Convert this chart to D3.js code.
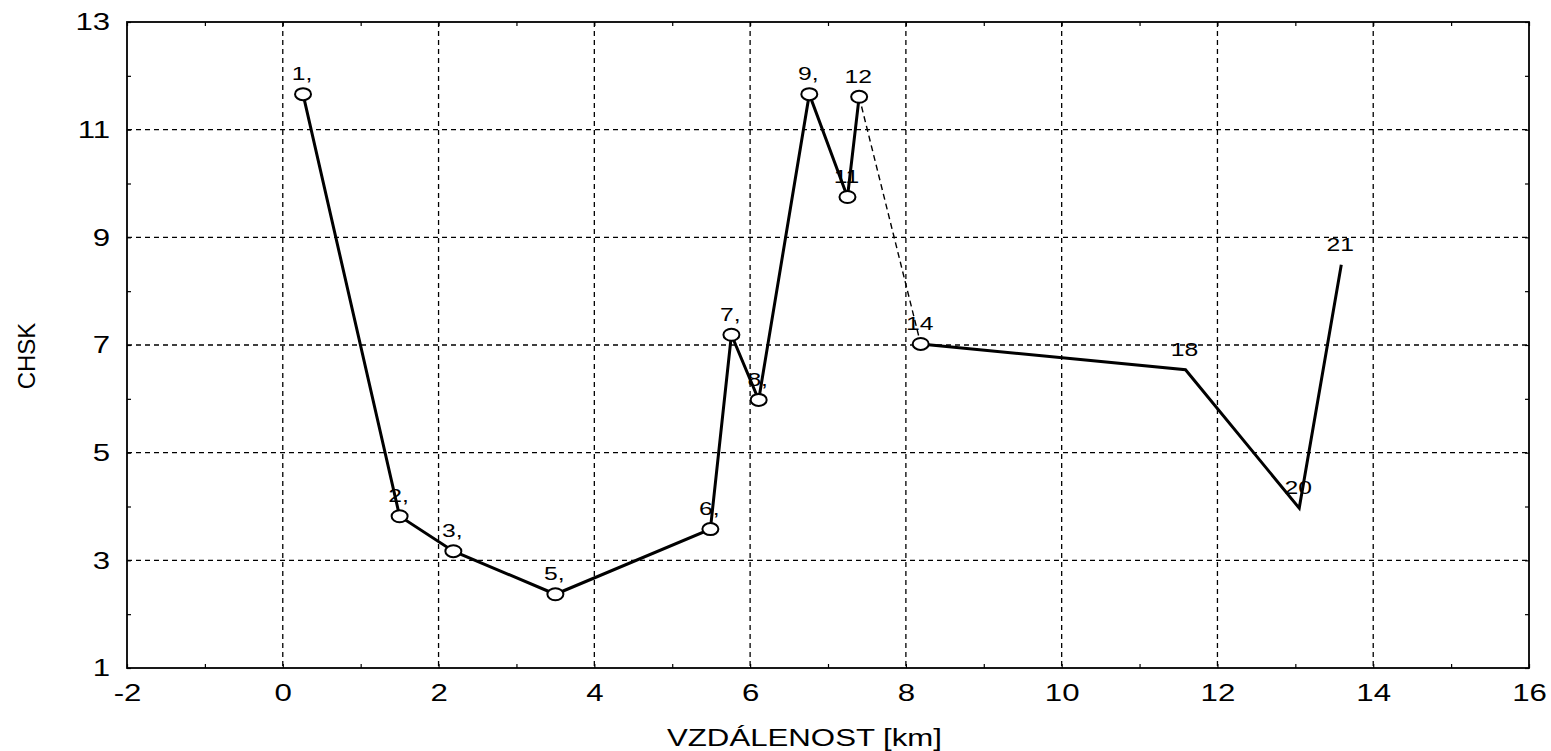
<!DOCTYPE html>
<html>
<head>
<meta charset="utf-8">
<script src="https://cdn.jsdelivr.net/npm/d3@7"></script>
<style>
  body { margin: 0; background: #fff; }
  text { font-family: "Liberation Sans", Arial, sans-serif; fill: #000; }
</style>
</head>
<body>
<svg id="chart" width="1551" height="751"></svg>
<script>
// point labels, distance [km] and CHSK values
var labels   = ['1,', '2,', '3,', '5,', '6,', '7,', '8,', '9,', '11', '12', '14', '18', '20', '21'];
var distance = [0.26, 1.50, 2.19, 3.50, 5.49, 5.76, 6.11, 6.76, 7.25, 7.40, 8.19, 11.59, 13.05, 13.59];
var chsk     = [11.66, 3.82, 3.17, 2.37, 3.58, 7.19, 5.98, 11.66, 9.75, 11.61, 7.02, 6.54, 3.97, 8.49];
var marker   = [true, true, true, true, true, true, true, true, true, true, true, false, false, false];

var xTicks = [-2, 0, 2, 4, 6, 8, 10, 12, 14, 16];
var yTicks = [1, 3, 5, 7, 9, 11, 13];

var svg = d3.select('#chart');
var plotL = 127, plotR = 1529, plotT = 22, plotB = 668;
var SX = 1.3; // the original text is drawn a little wide

var x = d3.scaleLinear().domain([-2, 16]).range([plotL, plotR]);
var y = d3.scaleLinear().domain([1, 13]).range([plotB, plotT]);

var pts = distance.map(function (d, i) {
    return { x: d, y: chsk[i], label: labels[i], marker: marker[i] };
});

// Grid
var grid = svg.append('g');
grid.selectAll('.gx').data(xTicks.slice(1, -1)).enter().append('line')
    .attr('x1', function (d) { return x(d); }).attr('x2', function (d) { return x(d); })
    .attr('y1', plotT).attr('y2', plotB)
    .attr('stroke', '#000').attr('stroke-width', 1.3).attr('stroke-dasharray', '5,4');
grid.selectAll('.gy').data(yTicks.slice(1, -1)).enter().append('line')
    .attr('y1', function (d) { return y(d); }).attr('y2', function (d) { return y(d); })
    .attr('x1', plotL).attr('x2', plotR)
    .attr('stroke', '#000').attr('stroke-width', 1.3).attr('stroke-dasharray', '5,4');

// Axes (ticks pointing inside)
var xAxis = svg.append('g').attr('transform', 'translate(0,' + plotB + ')')
    .call(d3.axisBottom(x).tickValues(d3.range(-2, 16.1, 1)).tickSize(-4).tickPadding(16)
        .tickFormat(function (d) { return d % 2 === 0 ? d : ''; }));
var xTop = svg.append('g').attr('transform', 'translate(0,' + plotT + ')')
    .call(d3.axisTop(x).tickValues(d3.range(-2, 16.1, 1)).tickSize(-4).tickFormat(''));
var yAxis = svg.append('g').attr('transform', 'translate(' + plotL + ',0)')
    .call(d3.axisLeft(y).tickValues(d3.range(1, 13.1, 1)).tickSize(-4).tickPadding(13)
        .tickFormat(function (d) { return d % 2 === 1 ? d : ''; }));
var yRight = svg.append('g').attr('transform', 'translate(' + plotR + ',0)')
    .call(d3.axisRight(y).tickValues(d3.range(1, 13.1, 1)).tickSize(-4).tickFormat(''));

[xAxis, xTop, yAxis, yRight].forEach(function (a) {
    a.select('.domain').remove();
    a.selectAll('line').attr('stroke', '#000').attr('stroke-width', 1.2);
    a.selectAll('text').attr('font-size', 24).attr('fill', '#000')
        .attr('font-family', '"Liberation Sans", Arial, sans-serif')
        .attr('transform', 'scale(' + SX + ',1)');
});

svg.append('rect')
    .attr('x', plotL).attr('y', plotT).attr('width', plotR - plotL).attr('height', plotB - plotT)
    .attr('fill', 'none').attr('stroke', '#000').attr('stroke-width', 1.8);

// Axis titles
svg.append('text').attr('transform', 'translate(667,746) scale(' + SX + ',1)')
    .attr('font-size', 24).text('VZDÁLENOST [km]');
svg.append('text').attr('transform', 'translate(35,356) rotate(-90)')
    .attr('text-anchor', 'middle').attr('font-size', 24).text('CHSK');

// Line: solid up to 12, dashed 12-14, solid from 14
var line = d3.line().x(function (d) { return x(d.x); }).y(function (d) { return y(d.y); });
svg.append('path').attr('d', line(pts.slice(0, 10)))
    .attr('fill', 'none').attr('stroke', '#000').attr('stroke-width', 3);
svg.append('path').attr('d', line(pts.slice(9, 11)))
    .attr('fill', 'none').attr('stroke', '#000').attr('stroke-width', 1.4).attr('stroke-dasharray', '6,4');
svg.append('path').attr('d', line(pts.slice(10)))
    .attr('fill', 'none').attr('stroke', '#000').attr('stroke-width', 3);

// Markers
svg.selectAll('.pt').data(pts.filter(function (d) { return d.marker; })).enter().append('ellipse')
    .attr('cx', function (d) { return x(d.x); }).attr('cy', function (d) { return y(d.y); })
    .attr('rx', 8).attr('ry', 6)
    .attr('fill', '#fff').attr('stroke', '#000').attr('stroke-width', 2);

// Point labels
svg.selectAll('.lbl').data(pts).enter().append('text')
    .attr('transform', function (d) {
        return 'translate(' + (x(d.x) - 1) + ',' + (y(d.y) - 14) + ') scale(' + SX + ',1)';
    })
    .attr('text-anchor', 'middle').attr('font-size', 19)
    .text(function (d) { return d.label; });
</script>
</body>
</html>
